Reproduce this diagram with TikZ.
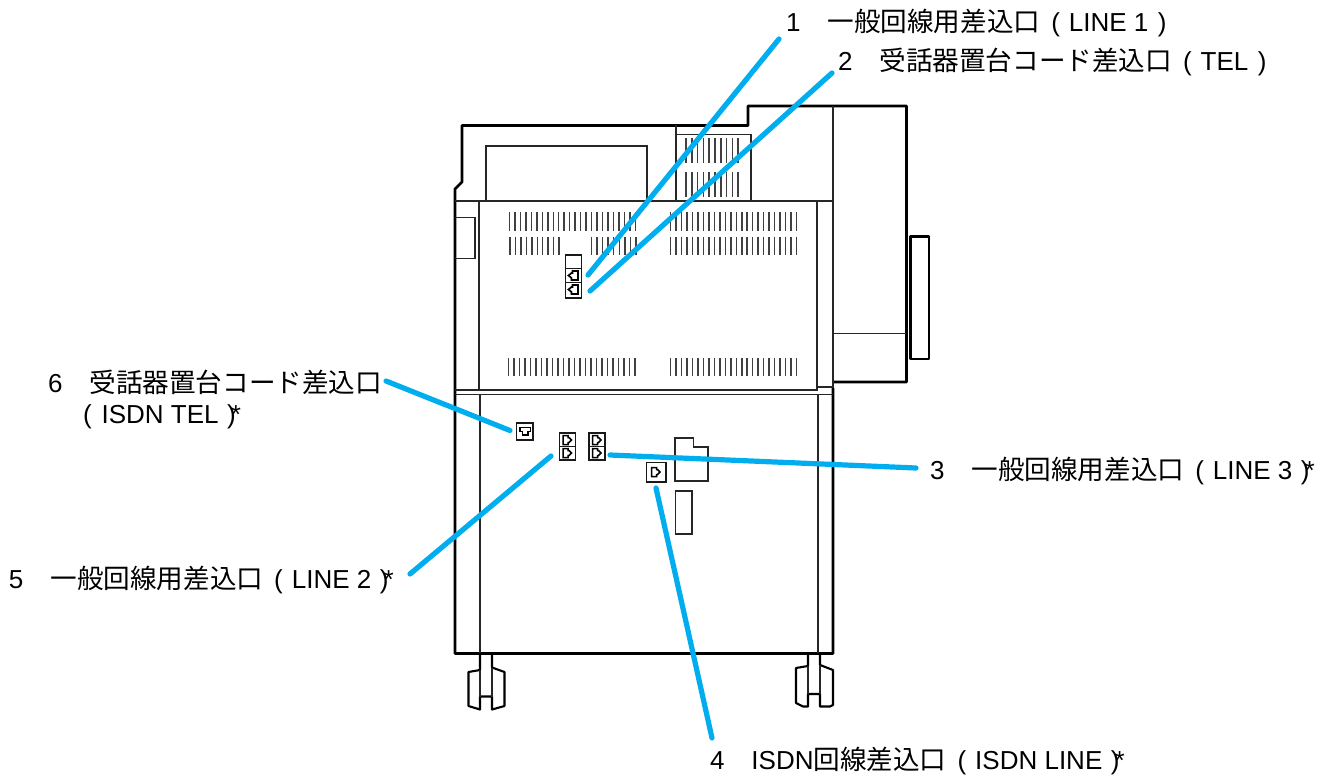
\documentclass[tikz,border=0pt]{standalone}
\usepackage{fontspec}
\setmainfont{Liberation Sans}
\newfontfamily\cjk{Noto Sans CJK JP}[Scale=1.023]
\definecolor{leader}{HTML}{00AEEF}
\definecolor{ventgray}{HTML}{404040}
\newcommand{\numgap}{\hspace{27pt}}
\newcommand{\opn}{\hspace{11pt}(\hspace{9pt}}
\newcommand{\cls}{\hspace{9.5pt})}
\newcommand{\clsstar}{\hspace{8.5pt})\hspace{-5pt}*}
\tikzset{
  label text/.style={anchor=base west,inner sep=0pt,outer sep=0pt,font=\fontsize{26}{31}\selectfont,text=black},
  leader line/.style={draw=leader,line width=5.2pt,line cap=round},
  heavy/.style={draw=black,line width=2.8pt,line join=round},
  caster line/.style={draw=black,line width=2.1pt,line join=round},
  thin line/.style={draw=black!85,line width=1.4pt,line join=miter},
  vent/.style={draw=ventgray,line width=1.5pt},
  jack/.style={draw=black,line width=1.5pt,line join=miter},
  port box/.style={draw=black!90,line width=1.4pt}
}
\newcommand{\ventrow}[5]{% first x, step, count-1, y1, y2
  \foreach \k in {0,...,#3}{\draw[vent] ({#1+\k*#2},#4) -- ({#1+\k*#2},#5);}}
\newcommand{\jackleft}[2]{% centre
  \draw[jack,line width=1.7pt] (#1-5,#2) -- (#1-2,#2-2.5) -- (#1-1,#2-2.5) -- (#1-1,#2-4.5) -- (#1+4.5,#2-4.5) -- (#1+4.5,#2+4.5) -- (#1-2,#2+4.5) -- (#1-2,#2+2.5) -- cycle;}
\newcommand{\jackright}[2]{%
  \draw[jack] (#1-4,#2-4.5) -- (#1+1,#2-4.5) -- (#1+1,#2-2.5) -- (#1+2,#2-2.5) -- (#1+4.5,#2) -- (#1+2,#2+2.5) -- (#1+1,#2+2.5) -- (#1+1,#2+4.5) -- (#1-4,#2+4.5) -- cycle;}
\begin{document}
\begin{tikzpicture}[x=1pt,y=-1pt]
\useasboundingbox (0,0) rectangle (1329,775);

% machine outline
\draw[heavy] (833,388) -- (833,653.5) -- (455,653.5) -- (455,189) -- (462,182) -- (462,125.5) -- (748,125.5) -- (748,106) -- (906.5,106) -- (906.5,382) -- (833,382);
% structure lines
\draw[thin line] (833,106) -- (833,388);
\draw[thin line] (455,201) -- (833,201);
\draw[thin line] (479,201) -- (479,390);
\draw[thin line] (480,394.5) -- (480,653);
\draw[thin line] (455,390) -- (817,390) -- (817,201);
\draw[thin line] (817,387) -- (833,387);
\draw[thin line] (455,394.5) -- (833,394.5);
\draw[thin line] (818,394.5) -- (818,653);
\draw[thin line] (486,201) -- (486,146) -- (647,146) -- (647,201);
\draw[thin line] (676,125.5) -- (676,201);
\draw[thin line] (676,134.5) -- (751,134.5) -- (751,201);
\draw[thin line] (455,217.5) -- (475,217.5) -- (475,258.5) -- (455,258.5);
\draw[thin line] (833,333.5) -- (906,333.5);
\draw[heavy] (910.5,236.5) rectangle (929,359);

% vents
\ventrow{686}{5.8}{9}{138}{163}
\ventrow{686}{5.8}{9}{172}{197}
\ventrow{509.5}{5.47}{23}{212}{231}
\ventrow{510}{5.45}{9}{237}{255}
\ventrow{591.5}{5.55}{8}{237}{255}
\ventrow{670.5}{5.48}{23}{212}{231}
\ventrow{670.5}{5.48}{23}{237}{255}
\ventrow{508.5}{5.5}{23}{358}{376}
\ventrow{670.5}{5.48}{23}{358}{376}

% upper ports
\draw[port box] (565.5,255) rectangle (581.5,298);
\draw[port box] (565.5,268.5) -- (581.5,268.5);
\draw[port box] (565.5,282.5) -- (581.5,282.5);
\jackleft{573.5}{275.5}
\jackleft{573.5}{289.5}

% lower ports
\draw[port box] (516.5,423) rectangle (533,440);
\draw[jack] (520,427.5) -- (530.5,427.5) -- (530.5,431.5) -- (528,431.5) -- (528,435) -- (522.5,435) -- (522.5,431.5) -- (520,431.5) -- cycle;
\draw[port box] (559.5,433) rectangle (575.5,460);
\draw[port box] (559.5,446.5) -- (575.5,446.5);
\jackright{567}{440}
\jackright{567}{453}
\draw[port box] (589,433) rectangle (605,460);
\draw[port box] (589,446.5) -- (605,446.5);
\jackright{596.5}{440}
\jackright{596.5}{453}
\draw[port box] (646.5,462.5) rectangle (666,482);
\jackright{655.5}{472}
\draw[thin line] (675,438) -- (693.5,438) -- (693.5,447) -- (708,447) -- (708,481) -- (675,481) -- cycle;
\draw[thin line] (675.5,491) rectangle (692,534);

% casters
\draw[caster line] (480,653) -- (480,670) -- (468.5,672) -- (468.5,706) -- (480,709.5) -- (480,696.5) -- (492,696.5) -- (492,709.5) -- (504.5,706) -- (504.5,672) -- (492,667.5) -- (492,653);
\draw[thin line] (480,670) -- (480,696.5);
\draw[thin line] (492,667.5) -- (492,696.5);
\draw[caster line] (808,653) -- (808,666) -- (796,668) -- (796,703) -- (803,706.5) -- (808,706.5) -- (808,694) -- (820,694) -- (820,706.5) -- (830,706.5) -- (833,705) -- (833,670) -- (820,665) -- (820,653);
\draw[thin line] (808,666) -- (808,694);
\draw[thin line] (820,665) -- (820,694);

% labels
\node[label text] (l1) at (786,32) {1\numgap{\cjk 一般回線用差込口}\opn LINE 1\cls};
\node[label text] (l2) at (838,71) {2\numgap{\cjk 受話器置台コード差込口}\opn TEL\cls};
\node[label text] (l3) at (930,479) {3\numgap{\cjk 一般回線用差込口}\opn LINE 3\clsstar};
\node[label text] (l4) at (710,769) {4\numgap ISDN{\cjk 回線差込口}\opn ISDN LINE\clsstar};
\node[label text] (l5) at (9,588) {5\numgap{\cjk 一般回線用差込口}\opn LINE 2\clsstar};
\node[label text] (l6) at (48,392) {6\numgap{\cjk 受話器置台コード差込口}};
\node[label text] (l6b) at (83,423) {(\hspace{10pt}ISDN TEL\clsstar};

% leader ends
\coordinate (c1) at (779,39);
\coordinate (p1) at (588,275);
\coordinate (c2) at (832,73);
\coordinate (p2) at (590,291);
\coordinate (c3) at (916,468);
\coordinate (p3) at (610,455);
\coordinate (c4) at (712,738);
\coordinate (p4) at (656,488);
\coordinate (c5) at (410,574);
\coordinate (p5) at (551,456);
\coordinate (c6) at (386,381);
\coordinate (p6) at (510,430.5);
\draw[leader line] (c1) -- (p1);
\draw[leader line] (c2) -- (p2);
\draw[leader line] (c3) -- (p3);
\draw[leader line] (c4) -- (p4);
\draw[leader line] (c5) -- (p5);
\draw[leader line] (c6) -- (p6);
\end{tikzpicture}
\end{document}
